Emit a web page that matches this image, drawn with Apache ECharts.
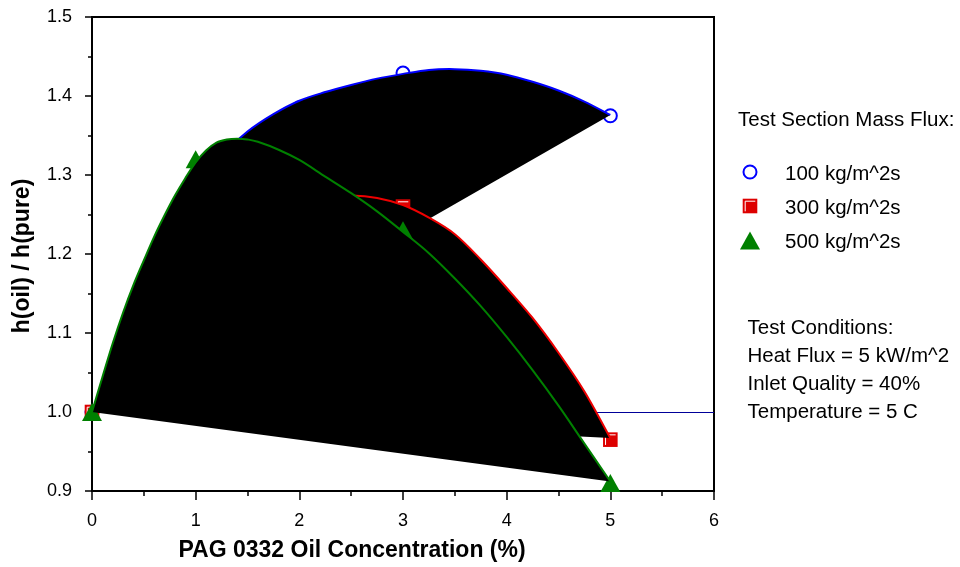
<!DOCTYPE html>
<html>
<head>
<meta charset="utf-8">
<script src="https://cdn.jsdelivr.net/npm/echarts@6/dist/echarts.min.js"></script>
<style>
  html, body { margin: 0; padding: 0; background: #fff; }
  #chart { width: 960px; height: 567px; }
</style>
</head>
<body>
<div id="chart"></div>
<script>
// Measured heat transfer ratios for each mass flux
const conc100 = [0, 1, 2, 3, 5];
const ratio100 = [1.000, 1.290, 1.385, 1.429, 1.375];
const conc300 = [0, 3, 5];
const ratio300 = [1.000, 1.260, 0.965];
const conc500 = [0, 1, 3, 5];
const ratio500 = [1.000, 1.320, 1.230, 0.910];

// Curve fits through each data set
const fitX100 = [0, 0.25, 0.5, 0.75, 1.0, 1.25, 1.5, 1.75, 2.0, 2.25, 2.5, 2.75, 3.0, 3.25, 3.5, 3.75, 4.0, 4.25, 4.5, 4.75, 5.0];
const fit100 = [1.000, 1.090, 1.170, 1.235, 1.285, 1.325, 1.355, 1.377, 1.394, 1.405, 1.414, 1.422, 1.428, 1.433, 1.434, 1.432, 1.427, 1.418, 1.407, 1.393, 1.376];
const fitX300 = [0, 0.25, 0.5, 0.75, 1.0, 1.25, 1.5, 1.75, 2.0, 2.25, 2.5, 2.75, 3.0, 3.25, 3.5, 3.75, 4.0, 4.25, 4.5, 4.75, 5.0];
const fit300 = [1.000, 1.080, 1.140, 1.180, 1.210, 1.232, 1.250, 1.262, 1.268, 1.272, 1.274, 1.271, 1.262, 1.246, 1.225, 1.193, 1.157, 1.119, 1.075, 1.026, 0.967];
const fitX500 = [0, 0.1, 0.2, 0.3, 0.4, 0.5, 0.6, 0.7, 0.8, 0.9, 1.0, 1.1, 1.2, 1.3, 1.4, 1.5, 1.6, 1.8, 2.0, 2.25, 2.5, 2.75, 3.0, 3.25, 3.5, 3.75, 4.0, 4.25, 4.5, 4.75, 5.0];
const fit500 = [1.000, 1.044, 1.087, 1.126, 1.161, 1.192, 1.222, 1.249, 1.274, 1.296, 1.316, 1.331, 1.341, 1.345, 1.346, 1.345, 1.342, 1.332, 1.319, 1.298, 1.277, 1.254, 1.228, 1.201, 1.169, 1.134, 1.095, 1.053, 1.008, 0.960, 0.912];

// Reference ratio of unity
const unityX = [0, 6];
const unityY = [1.0, 1.0];

const xTicks = [0, 6, 1];
const yTicks = [0.9, 1.5, 0.1];

const FONT = '"Liberation Sans", Arial, sans-serif';
const BLUE = '#0000ff', RED = '#ee0000', REDFILL = '#dd0000', GREEN = '#008000';

function symbol(kind, cx, cy) {
  if (kind === 'circle') {
    return { type: 'circle', shape: { cx: cx, cy: cy, r: 6.5 },
             style: { fill: null, stroke: BLUE, lineWidth: 2 } };
  }
  if (kind === 'square') {
    const h = 7.3;
    return { type: 'group', children: [
      { type: 'rect', shape: { x: cx - h, y: cy - h, width: 2 * h, height: 2 * h }, style: { fill: REDFILL } },
      { type: 'polyline', shape: { points: [[cx - h + 2.5, cy + h - 2], [cx - h + 2.5, cy - h + 2.5], [cx + h - 2, cy - h + 2.5]] },
        style: { stroke: '#fff', lineWidth: 1, fill: null } }
    ]};
  }
  return { type: 'polygon', shape: { points: [[cx, cy - 9], [cx + 10, cy + 9], [cx - 10, cy + 9]] },
           style: { fill: GREEN } };
}

function markerSeries(name, xs, ys, kind, z) {
  return {
    type: 'custom', name: name, z: z, silent: true, clip: false,
    data: xs.map((x, i) => [x, ys[i]]),
    renderItem: function (params, api) {
      const p = api.coord([api.value(0), api.value(1)]);
      return symbol(kind, p[0], p[1]);
    }
  };
}

// Smooth cubic path through pixel points
function curvePath(pts) {
  let d = 'M' + pts[0][0] + ',' + pts[0][1];
  const n = pts.length;
  for (let i = 0; i < n - 1; i++) {
    const p0 = pts[Math.max(i - 1, 0)], p1 = pts[i], p2 = pts[i + 1], p3 = pts[Math.min(i + 2, n - 1)];
    const c1x = p1[0] + (p2[0] - p0[0]) / 6, c1y = p1[1] + (p2[1] - p0[1]) / 6;
    const c2x = p2[0] - (p3[0] - p1[0]) / 6, c2y = p2[1] - (p3[1] - p1[1]) / 6;
    d += ' C' + c1x + ',' + c1y + ' ' + c2x + ',' + c2y + ' ' + p2[0] + ',' + p2[1];
  }
  return d;
}

// Each fit is filled as a closed shape (end joined straight back to start), then stroked
function fitSeries(name, xs, ys, color, z) {
  return {
    type: 'custom', name: name, z: z, silent: true, clip: false,
    data: [[xs[0], ys[0]]],
    renderItem: function (params, api) {
      const pts = xs.map((x, i) => api.coord([x, ys[i]]));
      const d = curvePath(pts);
      return { type: 'group', children: [
        { type: 'path', shape: { pathData: d + ' L' + pts[0][0] + ',' + pts[0][1] + ' Z' }, style: { fill: '#000', stroke: null } },
        { type: 'path', shape: { pathData: d }, style: { stroke: color, lineWidth: 2, fill: null, lineJoin: 'round' } }
      ]};
    }
  };
}

// Horizontal reference line snapped to the pixel grid
const unitySeries = {
  type: 'custom', z: 2, silent: true, clip: true,
  data: [[unityX[0], unityY[0]]],
  renderItem: function (params, api) {
    const a = api.coord([unityX[0], unityY[0]]);
    const b = api.coord([unityX[1], unityY[1]]);
    const y = Math.round(a[1]) + 0.5;
    return { type: 'line', shape: { x1: a[0], y1: y, x2: b[0], y2: y }, style: { stroke: '#000099', lineWidth: 1 } };
  }
};

function legendText(text, x, y) {
  return { type: 'text', x: x, y: y, silent: true,
    style: { text: text, fill: '#000', fontSize: 20.5, fontFamily: FONT, align: 'left', verticalAlign: 'middle' } };
}

const axisCommon = {
  type: 'value',
  axisLine: { show: true, onZero: false, lineStyle: { color: '#000', width: 2 } },
  splitLine: { show: false },
  axisLabel: { color: '#000', fontSize: 18, fontFamily: FONT, margin: 20 }
};

const chart = echarts.init(document.getElementById('chart'), null, { renderer: 'canvas' });
chart.setOption({
  animation: false,
  backgroundColor: '#fff',
  grid: { left: 92, right: 246, top: 17, bottom: 76, show: true, borderColor: '#000', borderWidth: 2, backgroundColor: 'transparent' },
  xAxis: Object.assign({}, axisCommon, {
    min: xTicks[0], max: xTicks[1], interval: xTicks[2],
    axisTick: { show: true, length: 9, lineStyle: { color: '#000', width: 1.5 } },
    minorTick: { show: true, splitNumber: 2, length: 5, lineStyle: { color: '#000', width: 1.5 } },
    axisLabel: Object.assign({}, axisCommon.axisLabel, { margin: 21 })
  }),
  yAxis: Object.assign({}, axisCommon, {
    min: yTicks[0], max: yTicks[1], interval: yTicks[2],
    axisTick: { show: true, length: 7, lineStyle: { color: '#000', width: 1.5 } },
    minorTick: { show: true, splitNumber: 2, length: 4, lineStyle: { color: '#000', width: 1.5 } },
    axisLabel: Object.assign({}, axisCommon.axisLabel, { formatter: v => v.toFixed(1) })
  }),
  series: [
    unitySeries,
    markerSeries('100 kg/m^2s', conc100, ratio100, 'circle', 3),
    fitSeries('100 fit', fitX100, fit100, BLUE, 4),
    markerSeries('300 kg/m^2s', conc300, ratio300, 'square', 5),
    fitSeries('300 fit', fitX300, fit300, RED, 6),
    markerSeries('500 kg/m^2s', conc500, ratio500, 'triangle', 7),
    fitSeries('500 fit', fitX500, fit500, GREEN, 8)
  ],
  graphic: [
    { type: 'text', x: 352, y: 551, silent: true,
      style: { text: 'PAG 0332 Oil Concentration (%)', fill: '#000', fontSize: 23, fontWeight: 'bold', fontFamily: FONT, align: 'center', verticalAlign: 'middle' } },
    { type: 'text', x: 23, y: 256, rotation: Math.PI / 2, silent: true,
      style: { text: 'h(oil) / h(pure)', fill: '#000', fontSize: 23, fontWeight: 'bold', fontFamily: FONT, align: 'center', verticalAlign: 'middle' } },
    legendText('Test Section Mass Flux:', 738, 120),
    Object.assign(symbol('circle', 750, 172), { silent: true }),
    legendText('100 kg/m^2s', 785, 174.5),
    Object.assign(symbol('square', 750, 206), { silent: true }),
    legendText('300 kg/m^2s', 785, 208),
    Object.assign(symbol('triangle', 750, 240.5), { silent: true }),
    legendText('500 kg/m^2s', 785, 242.5),
    legendText('Test Conditions:', 747.5, 328),
    legendText('Heat Flux = 5 kW/m^2', 747.5, 356.5),
    legendText('Inlet Quality = 40%', 747.5, 384.5),
    legendText('Temperature = 5 C', 747.5, 412.5)
  ]
});
</script>
</body>
</html>
